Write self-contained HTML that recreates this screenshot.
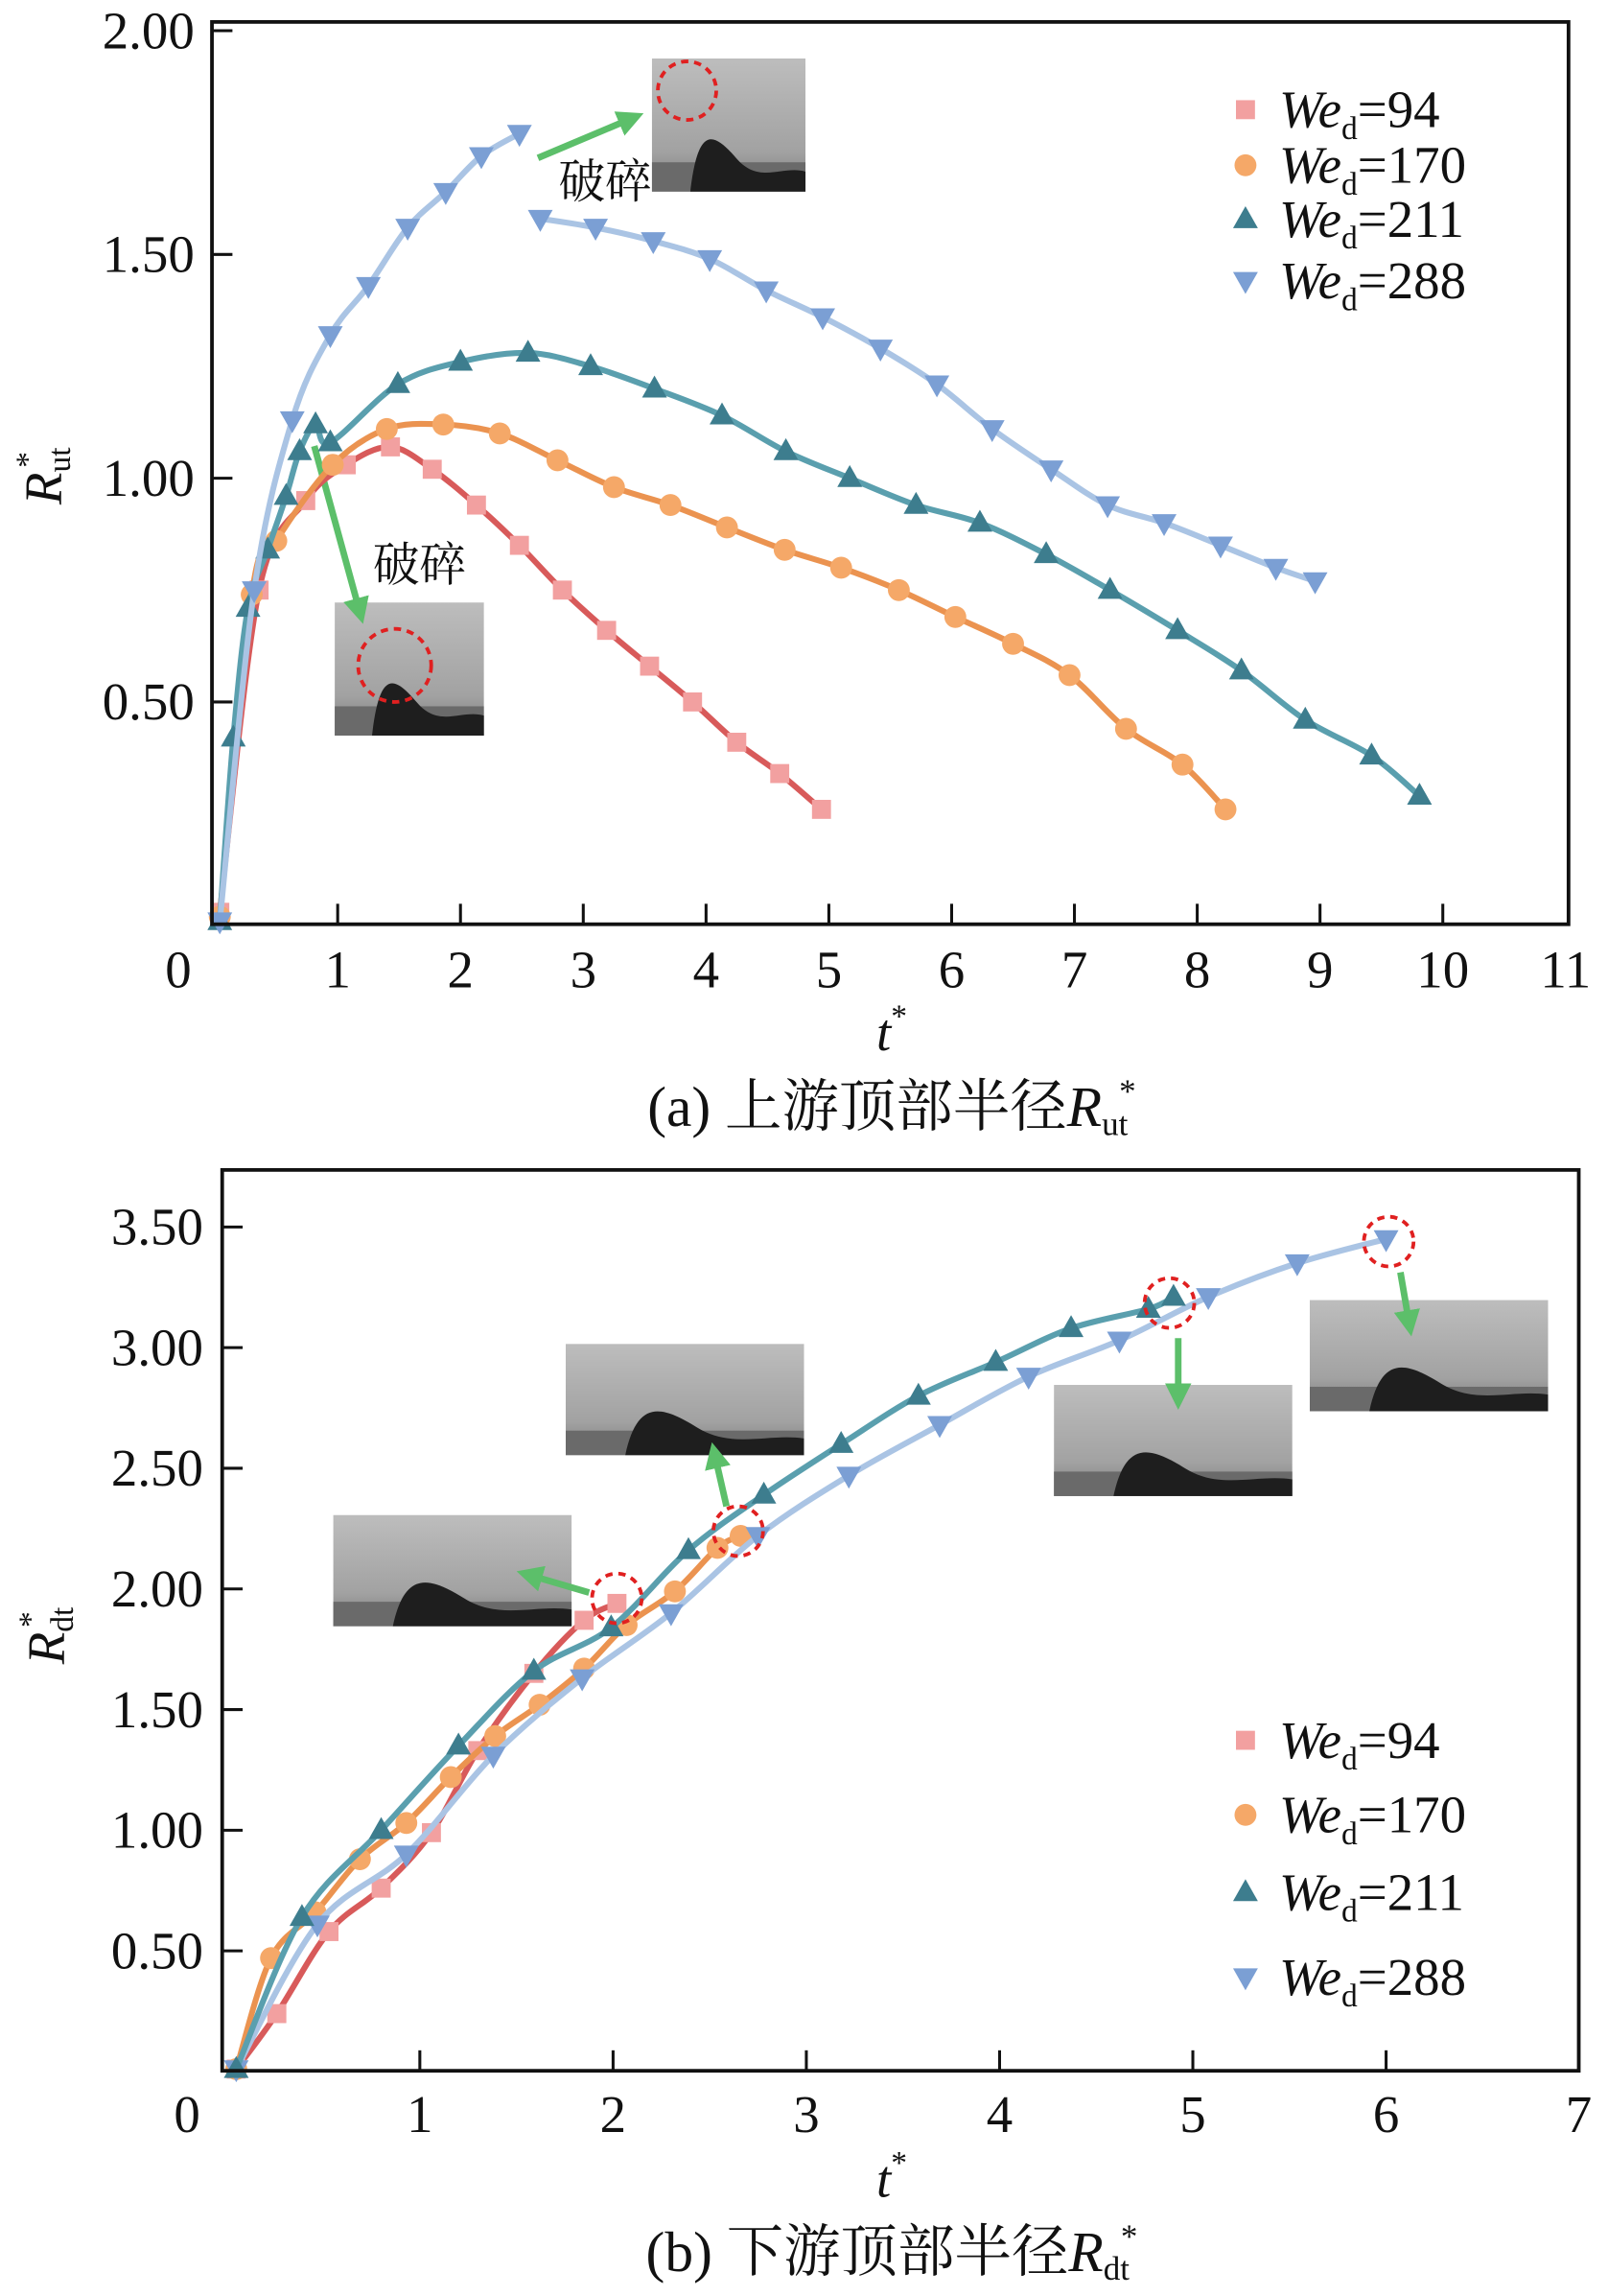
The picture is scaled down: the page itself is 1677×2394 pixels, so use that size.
<!DOCTYPE html>
<html><head><meta charset="utf-8"><style>
html,body{margin:0;padding:0;background:#fff;}
svg{display:block;}
text{font-family:"Liberation Serif","Noto Serif CJK SC",serif;fill:#111;}
</style></head><body>
<svg id="fig" width="1677" height="2394" viewBox="0 0 1100 1570" preserveAspectRatio="none" xmlns="http://www.w3.org/2000/svg">
<defs>
<linearGradient id="photoBg" x1="0" y1="0" x2="0" y2="1"><stop offset="0" stop-color="#bdbdbd"/><stop offset="0.7" stop-color="#a2a2a2"/><stop offset="1" stop-color="#7a7a7a"/></linearGradient>
<marker id="ah" markerWidth="4" markerHeight="4" refX="2" refY="2" orient="auto"><path d="M0,0 L4,2 L0,4 z" fill="#5cbf6a"/></marker>
</defs>
<g id="chartA"></g>
<g id="chartB"></g>
</svg>
<script>
// ---------- Chart (a) data ----------
const aXTicks = [0,1,2,3,4,5,6,7,8,9,10,11];
const aYTicks = [0.5,1.0,1.5,2.0];
const aT94  = [0.04,0.36,0.74,1.07,1.43,1.77,2.13,2.48,2.83,3.19,3.54,3.89,4.25,4.6,4.94];
const aV94  = [0.03,0.75,0.95,1.03,1.07,1.02,0.94,0.85,0.75,0.66,0.58,0.50,0.41,0.34,0.26];
const aT170 = [0.04,0.3,0.5,0.96,1.4,1.86,2.32,2.79,3.25,3.71,4.17,4.64,5.1,5.57,6.03,6.5,6.96,7.42,7.88,8.23];
const aV170 = [0.02,0.74,0.86,1.03,1.11,1.12,1.10,1.04,0.98,0.94,0.89,0.84,0.80,0.75,0.69,0.63,0.56,0.44,0.36,0.26];
const aT211 = [0.04,0.15,0.27,0.43,0.58,0.69,0.82,0.94,1.49,2.0,2.55,3.06,3.58,4.13,4.65,5.17,5.71,6.23,6.77,7.29,7.84,8.36,8.88,9.42,9.81];
const aV211 = [0.01,0.42,0.71,0.84,0.96,1.06,1.12,1.08,1.21,1.26,1.28,1.25,1.20,1.14,1.06,1.00,0.94,0.90,0.83,0.75,0.66,0.57,0.46,0.38,0.29];
const aT288a = [0.04,0.32,0.63,0.94,1.25,1.57,1.88,2.17,2.48];
const aV288a = [0.01,0.75,1.13,1.32,1.43,1.56,1.64,1.72,1.77];
const aT288b = [2.65,3.1,3.57,4.03,4.49,4.95,5.42,5.88,6.33,6.81,7.27,7.73,8.19,8.64,8.96];
const aV288b = [1.58,1.56,1.53,1.49,1.42,1.36,1.29,1.21,1.11,1.02,0.94,0.90,0.85,0.80,0.77];
// ---------- Chart (b) data ----------
const bXTicks = [0,1,2,3,4,5,6,7];
const bYTicks = [0.5,1.0,1.5,2.0,2.5,3.0,3.5];
const bT94  = [0.05,0.26,0.53,0.8,1.06,1.3,1.59,1.85,2.02];
const bV94  = [0.01,0.24,0.58,0.76,0.99,1.33,1.65,1.87,1.94];
const bT170 = [0.05,0.23,0.46,0.69,0.93,1.16,1.39,1.62,1.85,2.07,2.32,2.54,2.66];
const bV170 = [0.01,0.47,0.66,0.88,1.03,1.22,1.39,1.52,1.67,1.85,1.99,2.17,2.22];
const bT211 = [0.05,0.39,0.8,1.2,1.59,1.99,2.39,2.78,3.18,3.58,3.98,4.37,4.77,4.9];
const bV211 = [0.01,0.64,1.0,1.35,1.66,1.84,2.16,2.39,2.6,2.8,2.94,3.08,3.16,3.21];
const bT288 = [0.05,0.47,0.93,1.38,1.84,2.3,2.75,3.22,3.69,4.15,4.62,5.08,5.54,6.0];
const bV288 = [0.01,0.61,0.9,1.31,1.63,1.9,2.22,2.47,2.68,2.88,3.03,3.21,3.35,3.45];

const NS="http://www.w3.org/2000/svg";
const COL={94:{m:"#f2a0a0",l:"#d85a5a"},170:{m:"#f5a868",l:"#eb9350"},211:{m:"#3d7d8e",l:"#5a9fae"},288:{m:"#7b9fd4",l:"#aac4e4"}};
function mk(tag,attrs,parent){const e=document.createElementNS(NS,tag);for(const k in attrs)e.setAttribute(k,attrs[k]);parent.appendChild(e);return e;}
function smooth(pts){let d="M"+pts[0][0]+","+pts[0][1];for(let i=0;i<pts.length-1;i++){const p0=pts[i-1]||pts[i],p1=pts[i],p2=pts[i+1],p3=pts[i+2]||p2;const c1=[p1[0]+(p2[0]-p0[0])/6,p1[1]+(p2[1]-p0[1])/6],c2=[p2[0]-(p3[0]-p1[0])/6,p2[1]-(p3[1]-p1[1])/6];d+=" C"+c1+" "+c2+" "+p2;}return d;}
function marker(g,kind,x,y,color){let e;
 if(kind==94){e=mk("rect",{x:x-6.5,y:y-6.5,width:13,height:13,fill:color},g);}
 else if(kind==170){e=mk("circle",{cx:x,cy:y,r:7.5,fill:color},g);}
 else if(kind==211){e=mk("path",{d:`M${x},${y-9} L${x+8.5},${y+6} L${x-8.5},${y+6}z`,fill:color},g);}
 else {e=mk("path",{d:`M${x},${y+9} L${x+8.5},${y-6} L${x-8.5},${y-6}z`,fill:color},g);}
 return e;}
function series(g,kind,T,V,sx,sy){
 const sg=mk("g",{},g);
 
 
 const pts=T.map((t,i)=>[sx(t),sy(V[i])]);
 const p=mk("path",{d:smooth(pts),fill:"none",stroke:COL[kind].l,"stroke-width":4,"stroke-linejoin":"round"},sg);
 
 
 pts.forEach(q=>{const m=marker(sg,kind,q[0],q[1],COL[kind].m);
  
  });
}
function legend(g,x,ys){
 [94,170,211,288].forEach((k,i)=>{
  const lg=mk("g",{},g);
  
  
  marker(lg,k,x,ys[i],COL[k].m);
  const t=mk("text",{x:x+23,y:ys[i]+12,"font-size":36},lg);
  t.innerHTML=`<tspan font-style="italic">We</tspan><tspan font-size="22" dy="8">d</tspan><tspan dy="-8">=${k}</tspan>`;
 });
}
function photo(g,x,y,w,h,name){
 const pg=mk("g",{},g);
 
 
 mk("rect",{x:x,y:y,width:w,height:h,fill:"url(#photoBg)"},pg);
 mk("rect",{x:x,y:y+h*0.78,width:w,height:h*0.22,fill:"#6a6a6a"},pg);
 mk("path",{d:`M${x+w*0.25},${y+h} C${x+w*0.3},${y+h*0.5} ${x+w*0.4},${y+h*0.55} ${x+w*0.55},${y+h*0.75} S${x+w*0.85},${y+h*0.8} ${x+w},${y+h*0.85} L${x+w},${y+h}z`,fill:"#1e1e1e"},pg);
}
function ring(g,cx,cy,r){const c=mk("circle",{cx:cx,cy:cy,r:r,fill:"none",stroke:"#e02020","stroke-width":2.5,"stroke-dasharray":"5,4"},g);
 
 }
function arrow(g,x1,y1,x2,y2){const a=mk("line",{x1:x1,y1:y1,x2:x2,y2:y2,stroke:"#5cbf6a","stroke-width":4.5,"marker-end":"url(#ah)"},g);
 
 }

// ---------- Chart A ----------
(function(){
 const g=document.getElementById("chartA");
 const L=145,R=1073,T=15,B=632;
 const sx=t=>147+84*t, sy=v=>633-306*v;
 photo(g,446,40,105,91,"breakup-photo-top");
 photo(g,229,412,102,91,"breakup-photo-bottom");
 ring(g,470,62,20); ring(g,270,455,25);
 arrow(g,368,108,432,81); arrow(g,215,305,246,418);
 let t1=mk("text",{x:382,y:135,"font-size":32},g); t1.textContent="破碎";
  
 let t2=mk("text",{x:255,y:397,"font-size":32},g); t2.textContent="破碎";
  
 series(g,94,aT94,aV94,sx,sy);
 series(g,170,aT170,aV170,sx,sy);
 series(g,211,aT211,aV211,sx,sy);
 series(g,288,aT288a,aV288a,sx,sy);
 series(g,288,aT288b,aV288b,sx,sy);
 const f=mk("rect",{x:L,y:T,width:R-L,height:B-T,fill:"none",stroke:"#111","stroke-width":2.5},g);
  
 aXTicks.forEach(t=>{if(t>0&&t<11)mk("line",{x1:sx(t),x2:sx(t),y1:B,y2:B-14,stroke:"#111","stroke-width":2},g);
  const l=mk("text",{x:t==0?122:sx(t),y:675,"font-size":36,"text-anchor":"middle"},g);l.textContent=t;
   });
 aYTicks.forEach(v=>{mk("line",{x1:L,x2:L+14,y1:sy(v),y2:sy(v),stroke:"#111","stroke-width":2},g);
  const l=mk("text",{x:133,y:sy(v)+12,"font-size":36,"text-anchor":"end"},g);l.textContent=v.toFixed(2);
   });
 const xt=mk("text",{x:610,y:718,"font-size":36,"text-anchor":"middle"},g);
 xt.innerHTML='<tspan font-style="italic">t</tspan><tspan font-size="22" dy="-16">*</tspan>';
  
 const yt=mk("text",{transform:"translate(42,345) rotate(-90)","font-size":36},g);
 yt.innerHTML='<tspan font-style="italic">R</tspan><tspan font-size="22" dy="6">ut</tspan><tspan font-size="22" dy="-22" dx="-14">*</tspan>';
  
 const cap=mk("text",{x:610,y:770,"font-size":39,"text-anchor":"middle"},g);
 cap.innerHTML='(a) 上游顶部半径<tspan font-style="italic">R</tspan><tspan font-size="23" dy="6">ut</tspan><tspan font-size="23" dy="-22" dx="-6">*</tspan>';
  
 legend(g,852,[75,113,150,192]);
})();

// ---------- Chart B ----------
(function(){
 const g=document.getElementById("chartB");
 const L=152,R=1080,T=800,B=1416;
 const sx=t=>155+132.2*t, sy=v=>1416.5-165*v;
 photo(g,228,1036,163,76,"splash-photo-1");
 photo(g,387,919,163,76,"splash-photo-2");
 photo(g,721,947,163,76,"splash-photo-3");
 photo(g,896,889,163,76,"splash-photo-4");
 series(g,94,bT94,bV94,sx,sy);
 series(g,170,bT170,bV170,sx,sy);
 series(g,288,bT288,bV288,sx,sy);
 series(g,211,bT211,bV211,sx,sy);
 ring(g,422,1093,17); ring(g,505,1047,17); ring(g,800,891,17); ring(g,950,849,17);
 arrow(g,403,1089,362,1077); arrow(g,497,1030,489,995); arrow(g,806,915,806,955); arrow(g,958,870,964,905);
 const f=mk("rect",{x:L,y:T,width:R-L,height:B-T,fill:"none",stroke:"#111","stroke-width":2.5},g);
  
 bXTicks.forEach(t=>{if(t>0&&t<7)mk("line",{x1:sx(t),x2:sx(t),y1:B,y2:B-14,stroke:"#111","stroke-width":2},g);
  const l=mk("text",{x:t==0?128:(t==7?1080:sx(t)),y:1458,"font-size":36,"text-anchor":"middle"},g);l.textContent=t;
   });
 bYTicks.forEach(v=>{mk("line",{x1:L,x2:L+14,y1:sy(v),y2:sy(v),stroke:"#111","stroke-width":2},g);
  const l=mk("text",{x:139,y:sy(v)+12,"font-size":36,"text-anchor":"end"},g);l.textContent=v.toFixed(2);
   });
 const xt=mk("text",{x:610,y:1502,"font-size":36,"text-anchor":"middle"},g);
 xt.innerHTML='<tspan font-style="italic">t</tspan><tspan font-size="22" dy="-16">*</tspan>';
  
 const yt=mk("text",{transform:"translate(44,1138) rotate(-90)","font-size":36},g);
 yt.innerHTML='<tspan font-style="italic">R</tspan><tspan font-size="22" dy="6">dt</tspan><tspan font-size="22" dy="-22" dx="-14">*</tspan>';
  
 const cap=mk("text",{x:610,y:1553,"font-size":39,"text-anchor":"middle"},g);
 cap.innerHTML='(b) 下游顶部半径<tspan font-style="italic">R</tspan><tspan font-size="23" dy="6">dt</tspan><tspan font-size="23" dy="-22" dx="-6">*</tspan>';
  
 legend(g,852,[1190,1241,1294,1352]);
})();
</script>
</body></html>
